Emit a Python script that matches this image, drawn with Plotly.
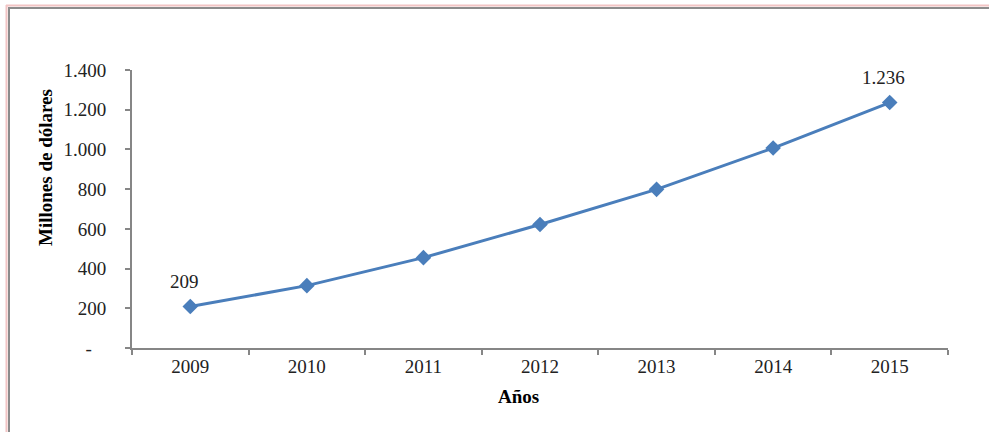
import plotly.graph_objects as go

years = ["2009", "2010", "2011", "2012", "2013", "2014", "2015"]
values = [209, 314, 455, 622, 799, 1007, 1236]
labelled_points = [0, 6]
label_texts = ["209", "1.236"]
y_tickvals = [0, 200, 400, 600, 800, 1000, 1200, 1400]
y_ticktext = ["-\u00a0\u00a0\u00a0", "200", "400", "600", "800", "1.000", "1.200", "1.400"]

W, H = 989, 432
L, R, T, B = 132, 41, 70, 84
pw, ph = W - L - R, H - T - B

def px(x):
    return (x - L) / pw

def py(y):
    return (H - B - y) / ph

font_family = "Liberation Serif, DejaVu Serif, serif"

fig = go.Figure()
fig.add_trace(go.Scatter(
    x=years, y=values, mode="lines+markers",
    line=dict(color="#4a7ebb", width=3),
    marker=dict(symbol="diamond", size=12, color="#4a7ebb"),
    cliponaxis=False, showlegend=False, hoverinfo="skip",
))

shapes = [
    dict(type="line", xref="paper", yref="paper", x0=px(6.5), x1=px(6.5), y0=py(5), y1=py(H + 5),
         line=dict(color="#f2c4c4", width=2)),
    dict(type="line", xref="paper", yref="paper", x0=px(9), x1=px(9), y0=py(8), y1=py(H + 5),
         line=dict(color="#8c8c8c", width=2)),
    dict(type="line", xref="paper", yref="paper", x0=px(6), x1=px(W + 5), y0=py(5.5), y1=py(5.5),
         line=dict(color="#f2c4c4", width=2)),
    dict(type="line", xref="paper", yref="paper", x0=px(8), x1=px(W + 5), y0=py(8), y1=py(8),
         line=dict(color="#8c8c8c", width=2)),
]

annotations = [
    dict(text="<b>Millones de dólares</b>", xref="paper", yref="paper",
         x=px(45), y=py(168), textangle=-90, showarrow=False,
         font=dict(family=font_family, size=19, color="#000"),
         xanchor="center", yanchor="middle"),
    dict(text="<b>Años</b>", xref="paper", yref="paper",
         x=px(518), y=py(396), showarrow=False,
         font=dict(family=font_family, size=19, color="#000"),
         xanchor="center", yanchor="middle"),
]
for i, t in zip(labelled_points, label_texts):
    annotations.append(dict(
        text=t, x=i, y=values[i], xref="x", yref="y", showarrow=False,
        xanchor="center", yanchor="middle", xshift=-6, yshift=25,
        font=dict(family=font_family, size=19, color="#222"),
    ))

fig.update_layout(
    width=W, height=H,
    margin=dict(l=L, r=R, t=T, b=B),
    paper_bgcolor="white", plot_bgcolor="white",
    font=dict(family=font_family, size=19, color="#222"),
    shapes=shapes, annotations=annotations,
    xaxis=dict(type="category", range=[-0.5, 6.5], showgrid=False,
               showline=True, linecolor="#868686", linewidth=2,
               ticks="outside", tickson="boundaries", ticklen=5,
               tickcolor="#868686", tickwidth=2, zeroline=False,
               tickfont=dict(family=font_family, size=19, color="#222")),
    yaxis=dict(range=[0, 1400], tickvals=y_tickvals, ticktext=y_ticktext,
               showgrid=False, showline=True, linecolor="#868686", linewidth=2,
               ticks="outside", ticklen=5, tickcolor="#868686", tickwidth=2,
               zeroline=False, ticklabelstandoff=15,
               tickfont=dict(family=font_family, size=19, color="#222")),
)

fig.write_html("out.html", config={"displayModeBar": False},
               post_script="document.body.style.margin='0';")
